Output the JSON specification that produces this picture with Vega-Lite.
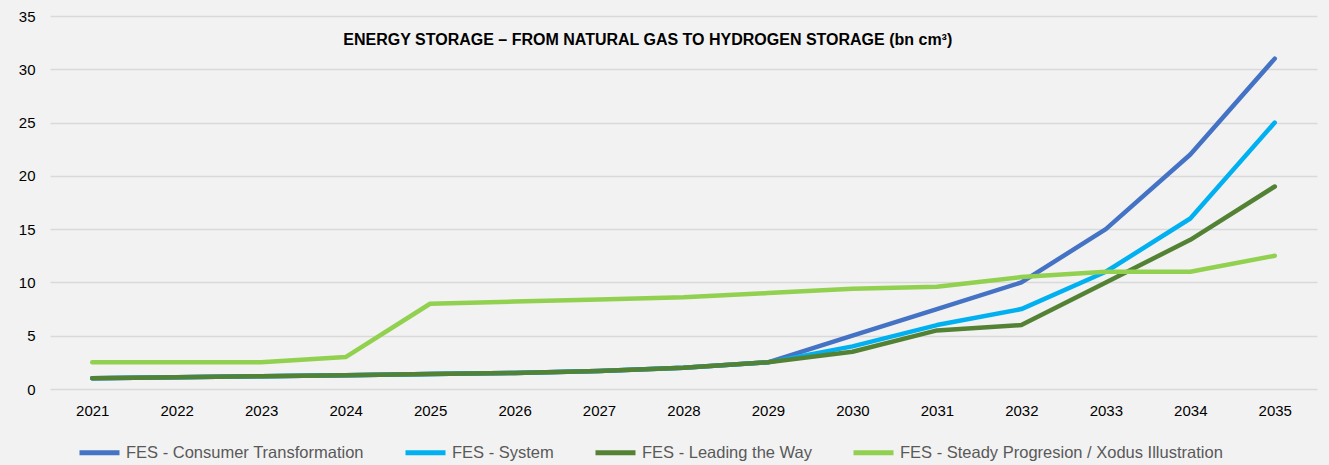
{
  "$schema": "https://vega.github.io/schema/vega-lite/v6.json",
  "autosize": {"type": "none"},
  "width": 1267,
  "height": 373,
  "padding": {"left": 50, "top": 16, "right": 12, "bottom": 76},
  "background": "#F2F2F2",
  "title": {
    "text": "ENERGY STORAGE – FROM NATURAL GAS TO HYDROGEN STORAGE (bn cm³)",
    "anchor": "start",
    "dx": 325,
    "dy": 52,
    "baseline": "alphabetic",
    "offset": 0,
    "font": "Liberation Sans",
    "fontSize": 16,
    "fontWeight": "bold",
    "color": "#000000"
  },
  "config": {
    "view": {"stroke": null},
    "font": "Liberation Sans"
  },
  "data": {
    "values": [
      {"year": 2021, "series": "FES - Consumer Transformation", "value": 1.0},
      {"year": 2022, "series": "FES - Consumer Transformation", "value": 1.1},
      {"year": 2023, "series": "FES - Consumer Transformation", "value": 1.2},
      {"year": 2024, "series": "FES - Consumer Transformation", "value": 1.3},
      {"year": 2025, "series": "FES - Consumer Transformation", "value": 1.4},
      {"year": 2026, "series": "FES - Consumer Transformation", "value": 1.5},
      {"year": 2027, "series": "FES - Consumer Transformation", "value": 1.7},
      {"year": 2028, "series": "FES - Consumer Transformation", "value": 2.0},
      {"year": 2029, "series": "FES - Consumer Transformation", "value": 2.5},
      {"year": 2030, "series": "FES - Consumer Transformation", "value": 5.0},
      {"year": 2031, "series": "FES - Consumer Transformation", "value": 7.5},
      {"year": 2032, "series": "FES - Consumer Transformation", "value": 10.0},
      {"year": 2033, "series": "FES - Consumer Transformation", "value": 15.0},
      {"year": 2034, "series": "FES - Consumer Transformation", "value": 22.0},
      {"year": 2035, "series": "FES - Consumer Transformation", "value": 31.0},
      {"year": 2021, "series": "FES - System", "value": 1.0},
      {"year": 2022, "series": "FES - System", "value": 1.1},
      {"year": 2023, "series": "FES - System", "value": 1.2},
      {"year": 2024, "series": "FES - System", "value": 1.3},
      {"year": 2025, "series": "FES - System", "value": 1.4},
      {"year": 2026, "series": "FES - System", "value": 1.5},
      {"year": 2027, "series": "FES - System", "value": 1.7},
      {"year": 2028, "series": "FES - System", "value": 2.0},
      {"year": 2029, "series": "FES - System", "value": 2.5},
      {"year": 2030, "series": "FES - System", "value": 4.0},
      {"year": 2031, "series": "FES - System", "value": 6.0},
      {"year": 2032, "series": "FES - System", "value": 7.5},
      {"year": 2033, "series": "FES - System", "value": 11.0},
      {"year": 2034, "series": "FES - System", "value": 16.0},
      {"year": 2035, "series": "FES - System", "value": 25.0},
      {"year": 2021, "series": "FES - Leading the Way", "value": 1.0},
      {"year": 2022, "series": "FES - Leading the Way", "value": 1.1},
      {"year": 2023, "series": "FES - Leading the Way", "value": 1.2},
      {"year": 2024, "series": "FES - Leading the Way", "value": 1.3},
      {"year": 2025, "series": "FES - Leading the Way", "value": 1.4},
      {"year": 2026, "series": "FES - Leading the Way", "value": 1.5},
      {"year": 2027, "series": "FES - Leading the Way", "value": 1.7},
      {"year": 2028, "series": "FES - Leading the Way", "value": 2.0},
      {"year": 2029, "series": "FES - Leading the Way", "value": 2.5},
      {"year": 2030, "series": "FES - Leading the Way", "value": 3.5},
      {"year": 2031, "series": "FES - Leading the Way", "value": 5.5},
      {"year": 2032, "series": "FES - Leading the Way", "value": 6.0},
      {"year": 2033, "series": "FES - Leading the Way", "value": 10.0},
      {"year": 2034, "series": "FES - Leading the Way", "value": 14.0},
      {"year": 2035, "series": "FES - Leading the Way", "value": 19.0},
      {"year": 2021, "series": "FES - Steady Progresion / Xodus Illustration", "value": 2.5},
      {"year": 2022, "series": "FES - Steady Progresion / Xodus Illustration", "value": 2.5},
      {"year": 2023, "series": "FES - Steady Progresion / Xodus Illustration", "value": 2.5},
      {"year": 2024, "series": "FES - Steady Progresion / Xodus Illustration", "value": 3.0},
      {"year": 2025, "series": "FES - Steady Progresion / Xodus Illustration", "value": 8.0},
      {"year": 2026, "series": "FES - Steady Progresion / Xodus Illustration", "value": 8.2},
      {"year": 2027, "series": "FES - Steady Progresion / Xodus Illustration", "value": 8.4},
      {"year": 2028, "series": "FES - Steady Progresion / Xodus Illustration", "value": 8.6},
      {"year": 2029, "series": "FES - Steady Progresion / Xodus Illustration", "value": 9.0},
      {"year": 2030, "series": "FES - Steady Progresion / Xodus Illustration", "value": 9.4},
      {"year": 2031, "series": "FES - Steady Progresion / Xodus Illustration", "value": 9.6},
      {"year": 2032, "series": "FES - Steady Progresion / Xodus Illustration", "value": 10.5},
      {"year": 2033, "series": "FES - Steady Progresion / Xodus Illustration", "value": 11.0},
      {"year": 2034, "series": "FES - Steady Progresion / Xodus Illustration", "value": 11.0},
      {"year": 2035, "series": "FES - Steady Progresion / Xodus Illustration", "value": 12.5}
    ]
  },
  "mark": {"type": "line", "strokeWidth": 4.5, "strokeCap": "round", "strokeJoin": "round"},
  "encoding": {
    "x": {
      "field": "year",
      "type": "ordinal",
      "scale": {"type": "point", "padding": 0.5},
      "axis": {
        "title": null,
        "domain": false,
        "ticks": false,
        "grid": false,
        "labelAngle": 0,
        "labelFontSize": 15,
        "labelColor": "#000000",
        "labelPadding": 14
      }
    },
    "y": {
      "field": "value",
      "type": "quantitative",
      "scale": {"domain": [0, 35]},
      "axis": {
        "title": null,
        "values": [0, 5, 10, 15, 20, 25, 30, 35],
        "domain": false,
        "ticks": false,
        "grid": true,
        "gridColor": "#D9D9D9",
        "gridWidth": 1.5,
        "labelFontSize": 15,
        "labelColor": "#000000",
        "labelPadding": 15
      }
    },
    "color": {
      "field": "series",
      "type": "nominal",
      "scale": {
        "domain": ["FES - Consumer Transformation", "FES - System", "FES - Leading the Way", "FES - Steady Progresion / Xodus Illustration"],
        "range": ["#4472C4", "#00B0F0", "#548235", "#92D050"]
      },
      "legend": {
        "title": null,
        "orient": "none",
        "direction": "horizontal",
        "legendX": 27,
        "legendY": 414,
        "padding": 0,
        "symbolType": "stroke",
        "symbolSize": 1600,
        "symbolStrokeWidth": 5,
        "labelFontSize": 16.5,
        "labelColor": "#595959",
        "labelOffset": 4,
        "labelLimit": 500,
        "columnPadding": 31
      }
    }
  }
}
